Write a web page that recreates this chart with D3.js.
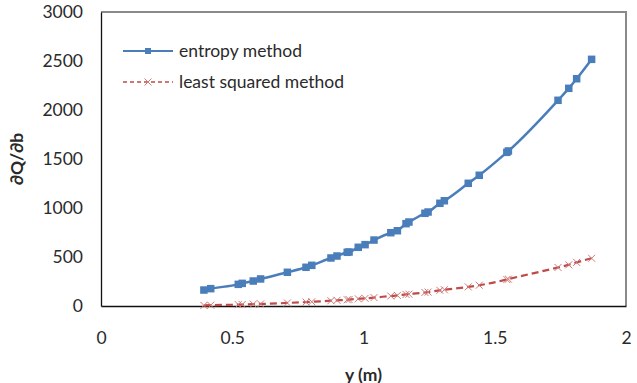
<!DOCTYPE html>
<html>
<head>
<meta charset="utf-8">
<script src="https://cdn.jsdelivr.net/npm/d3@7"></script>
<style>
  body { margin: 0; background: #fff; }
  svg { font-family: Lato, "Open Sans", sans-serif; }
</style>
</head>
<body>
<script>
// data
var yPos = [0.392, 0.418, 0.523, 0.538, 0.580, 0.608, 0.710, 0.781, 0.803, 0.876,
            0.899, 0.938, 0.945, 0.980, 1.006, 1.040, 1.104, 1.129, 1.162, 1.173,
            1.234, 1.246, 1.291, 1.308, 1.399, 1.441, 1.546, 1.552, 1.741, 1.782,
            1.812, 1.869];
var entropy = [163, 177, 221, 231, 255, 276, 344, 395, 415, 490,
               510, 548, 551, 599, 626, 673, 748, 768, 840, 857,
               946, 959, 1048, 1074, 1252, 1334, 1568, 1582, 2099, 2221,
               2319, 2517];
var leastSq = [6, 8, 14, 15, 19, 21, 31, 40, 43, 54,
               58, 64, 66, 73, 78, 86, 102, 108, 118, 121,
               138, 142, 160, 166, 195, 212, 270, 274, 393, 420,
               445, 487];
var xTicks = [0, 0.5, 1, 1.5, 2];
var yTicks = [0, 500, 1000, 1500, 2000, 2500, 3000];
var seriesNames = ["entropy method", "least squared method"];

var W = 637, H = 383;
var pLeft = 101, pRight = 626, pTop = 12, pBottom = 306;
var fs = 17.5;

var svg = d3.select("body")
  .append("svg")
  .attr("width", W)
  .attr("height", H);

var x = d3.scaleLinear().domain([0, 2]).range([pLeft, pRight]);
var y = d3.scaleLinear().domain([0, 3000]).range([pBottom, pTop]);

// plot area frame (top and right)
svg.append("path")
  .attr("d", "M" + pLeft + "," + pTop + "H" + pRight + "V" + pBottom)
  .attr("fill", "none")
  .attr("stroke", "#8a8a8a")
  .attr("stroke-width", 2);

// axes
var yAxis = svg.append("g")
  .attr("transform", "translate(" + pLeft + ",0)")
  .call(d3.axisLeft(y).tickValues(yTicks).tickSize(0).tickPadding(18)
    .tickFormat(function(d) { return d; }));
var xAxis = svg.append("g")
  .attr("transform", "translate(0," + pBottom + ")")
  .call(d3.axisBottom(x).tickValues(xTicks).tickSize(0).tickPadding(26)
    .tickFormat(function(d) { return d; }));

[yAxis, xAxis].forEach(function(g) {
  g.select(".domain").attr("stroke", "#111").attr("stroke-width", 1.3);
  g.selectAll("text").attr("font-size", fs).attr("fill", "#2a2a2a")
    .attr("font-family", "Lato, sans-serif");
});

// axis titles
svg.append("text")
  .attr("transform", "translate(23," + ((pTop + pBottom) / 2) + ") rotate(-90)")
  .attr("text-anchor", "middle")
  .attr("font-size", fs)
  .attr("font-weight", "bold")
  .attr("fill", "#2a2a2a")
  .text("\u2202Q/\u2202b");

svg.append("text")
  .attr("x", (pLeft + pRight) / 2)
  .attr("y", 381)
  .attr("text-anchor", "middle")
  .attr("font-size", fs)
  .attr("font-weight", "bold")
  .attr("fill", "#2a2a2a")
  .text("y (m)");

var pts = yPos.map(function(v, i) { return { x: v, e: entropy[i], l: leastSq[i] }; });

var line = function(key) {
  return d3.line()
    .x(function(d) { return x(d.x); })
    .y(function(d) { return y(d[key]); })
    .curve(d3.curveMonotoneX);
};

var blue = "#4a7ebb", red = "#be4b48";

// least squared series
svg.append("path")
  .datum(pts)
  .attr("d", line("l"))
  .attr("fill", "none")
  .attr("stroke", red)
  .attr("stroke-width", 2.2)
  .attr("stroke-dasharray", "7,4");

function cross(sel, cx, cy) {
  var s = 3.5;
  sel.append("path")
    .attr("d", "M" + (cx - s) + "," + (cy - s) + "L" + (cx + s) + "," + (cy + s) +
               "M" + (cx - s) + "," + (cy + s) + "L" + (cx + s) + "," + (cy - s))
    .attr("stroke", "#d07a78")
    .attr("stroke-width", 1);
}

var crosses = svg.append("g");
pts.forEach(function(d) { cross(crosses, x(d.x), y(d.l)); });

// entropy series
svg.append("path")
  .datum(pts)
  .attr("d", line("e"))
  .attr("fill", "none")
  .attr("stroke", blue)
  .attr("stroke-width", 2.5);

svg.selectAll(".sq")
  .data(pts)
  .enter().append("rect")
  .attr("class", "sq")
  .attr("x", function(d) { return x(d.x) - 3.75; })
  .attr("y", function(d) { return y(d.e) - 3.75; })
  .attr("width", 7.5)
  .attr("height", 7.5)
  .attr("fill", blue);

// legend
var legend = svg.append("g");
legend.append("line")
  .attr("x1", 123).attr("x2", 173).attr("y1", 51).attr("y2", 51)
  .attr("stroke", blue).attr("stroke-width", 2);
legend.append("rect")
  .attr("x", 145).attr("y", 48).attr("width", 6).attr("height", 6)
  .attr("fill", blue);
legend.append("line")
  .attr("x1", 123).attr("x2", 173).attr("y1", 82).attr("y2", 82)
  .attr("stroke", red).attr("stroke-width", 1.5)
  .attr("stroke-dasharray", "4,3");
cross(legend, 148, 82);

legend.selectAll(".lt")
  .data(seriesNames)
  .enter().append("text")
  .attr("class", "lt")
  .attr("x", 179)
  .attr("y", function(d, i) { return 51 + i * 31; })
  .attr("dy", "0.35em")
  .attr("font-size", fs)
  .attr("fill", "#2a2a2a")
  .text(function(d) { return d; });
</script>
</body>
</html>
